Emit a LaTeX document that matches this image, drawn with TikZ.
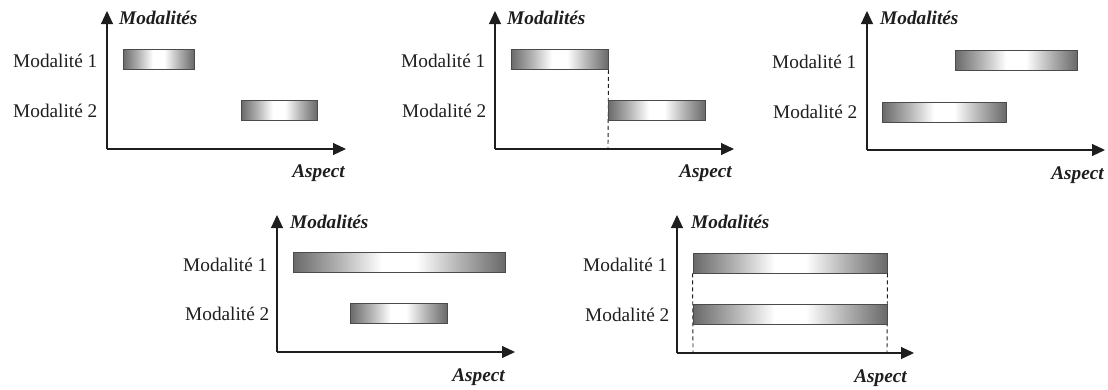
\documentclass[tikz,border=0pt]{standalone}
\usepackage{fontspec}
\setmainfont{Liberation Serif}
\usetikzlibrary{arrows.meta}
\definecolor{bardark}{RGB}{105,105,105}
\definecolor{barmid}{RGB}{180,180,180}
\definecolor{ink}{RGB}{30,30,30}
\pgfdeclarehorizontalshading{barshade}{100bp}{color(0bp)=(bardark); color(25bp)=(bardark); color(36bp)=(barmid); color(46bp)=(white); color(54bp)=(white); color(64bp)=(barmid); color(75bp)=(bardark); color(100bp)=(bardark)}
\begin{document}
\begin{tikzpicture}[x=1pt,y=-1pt,
  axis/.style={draw=ink, line width=1.1pt, -{Triangle[length=13pt,width=12pt]}},
  barbox/.style={draw=ink!80, line width=0.9pt, rectangle, inner sep=0pt,
     minimum height=20pt, shading=barshade},
  modlabel/.style={anchor=west, inner sep=0pt, text=ink, font=\fontsize{19.3}{21}\selectfont},
  axtitle/.style={inner sep=0pt, text=ink, font=\fontsize{19.3}{21}\selectfont\bfseries\itshape},
  guide/.style={draw=ink, line width=0.9pt, dashed, dash pattern=on 4pt off 3pt}]
\useasboundingbox (0,0) rectangle (1108,389);

% ---------- Panel 1 ----------
\coordinate (o1) at (107,149);
\coordinate (y1) at (107,11);
\coordinate (x1) at (346,149);
\draw[axis] (o1) -- (y1);
\draw[axis] (o1) -- (x1);
\node[axtitle, anchor=west] (t1) at (119,18) {Modalités};
\node[axtitle, anchor=east] (a1) at (345,173) {Aspect};
\node[modlabel] (m11) at (13,61) {Modalité 1};
\node[modlabel] (m12) at (13,111) {Modalité 2};
\node[barbox, minimum width=71pt] (b11) at (158.5,59.5) {};
\node[barbox, minimum width=76pt] (b12) at (279,110.5) {};

% ---------- Panel 2 ----------
\coordinate (o2) at (495,149);
\coordinate (y2) at (495,11);
\coordinate (x2) at (734,149);
\coordinate (d2) at (608,149);
\draw[axis] (o2) -- (y2);
\draw[axis] (o2) -- (x2);
\node[axtitle, anchor=west] (t2) at (507,18) {Modalités};
\node[axtitle, anchor=east] (a2) at (732,173) {Aspect};
\node[modlabel] (m21) at (401,61) {Modalité 1};
\node[modlabel] (m22) at (402,111) {Modalité 2};
\node[barbox, minimum width=97pt] (b21) at (559.5,59.5) {};
\draw[guide] (b21.south east) -- (d2);
\node[barbox, minimum width=97pt] (b22) at (656.5,110.5) {};

% ---------- Panel 3 ----------
\coordinate (o3) at (867,150);
\coordinate (y3) at (867,11);
\coordinate (x3) at (1105,150);
\draw[axis] (o3) -- (y3);
\draw[axis] (o3) -- (x3);
\node[axtitle, anchor=west] (t3) at (880,18) {Modalités};
\node[axtitle, anchor=east] (a3) at (1104,175) {Aspect};
\node[modlabel] (m31) at (772,62) {Modalité 1};
\node[modlabel] (m32) at (773,112) {Modalité 2};
\node[barbox, minimum width=122pt] (b31) at (1016,60.5) {};
\node[barbox, minimum width=124pt] (b32) at (944,112) {};

% ---------- Panel 4 ----------
\coordinate (o4) at (277,352);
\coordinate (y4) at (277,215);
\coordinate (x4) at (515,352);
\draw[axis] (o4) -- (y4);
\draw[axis] (o4) -- (x4);
\node[axtitle, anchor=west] (t4) at (290,222) {Modalités};
\node[axtitle, anchor=east] (a4) at (505,377) {Aspect};
\node[modlabel] (m41) at (183,265) {Modalité 1};
\node[modlabel] (m42) at (185,314) {Modalité 2};
\node[barbox, minimum width=212pt] (b41) at (399,262) {};
\node[barbox, minimum width=97pt] (b42) at (398.5,313.5) {};

% ---------- Panel 5 ----------
\coordinate (o5) at (677,353);
\coordinate (y5) at (677,215);
\coordinate (x5) at (914,353);
\coordinate (d5a) at (693,353);
\coordinate (d5b) at (887,353);
\draw[axis] (o5) -- (y5);
\draw[axis] (o5) -- (x5);
\node[axtitle, anchor=west] (t5) at (691,222) {Modalités};
\node[axtitle, anchor=east] (a5) at (907,378) {Aspect};
\node[modlabel] (m51) at (583,265) {Modalité 1};
\node[modlabel] (m52) at (585,315) {Modalité 2};
\node[barbox, minimum width=194pt] (b51) at (790,263) {};
\draw[guide] (b51.south west) -- (d5a);
\draw[guide] (b51.south east) -- (d5b);
\node[barbox, minimum width=194pt] (b52) at (790,314) {};
\end{tikzpicture}
\end{document}
